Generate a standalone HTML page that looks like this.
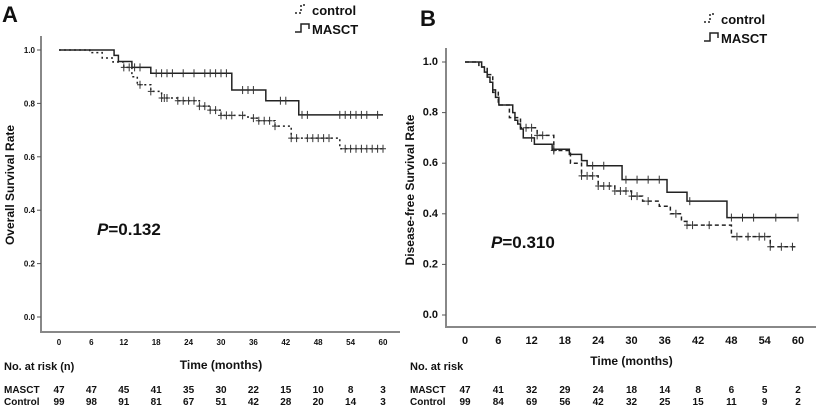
<!DOCTYPE html>
<html><head><meta charset="utf-8"><style>
body{margin:0;background:#fff;width:820px;height:408px;overflow:hidden;font-family:"Liberation Sans",Arial,sans-serif}
svg text{font-family:"Liberation Sans",Arial,sans-serif;font-weight:bold;fill:#111}
</style></head><body>
<svg id="c" width="820" height="408"></svg>
<script>
// ---- Panel A data ----
const aTicksY = [0.0,0.2,0.4,0.6,0.8,1.0];
const aTicksX = [0,6,12,18,24,30,36,42,48,54,60];
const aMasctT = [0,10.2,11,13.5,17,32,38.3,44.4,60];
const aMasctS = [1.0,0.98,0.957,0.935,0.913,0.85,0.81,0.757,0.757];
const aCtrlT = [0,5.7,8,10,12,13.5,14.5,17,19,22,26,28,30,33,35,37,40,43,51,52,60];
const aCtrlS = [1.0,0.99,0.97,0.955,0.935,0.9,0.87,0.845,0.82,0.81,0.79,0.775,0.755,0.755,0.745,0.735,0.715,0.67,0.67,0.63,0.63];
const aMasctCens = [14,15,18,19,20,21,23,25,27,28,29,30,31,34,35,36,41,42,45,46,52,53,54,55,56,57,59];
const aCtrlCens = [12,13,15,17,19,19.5,20,22,23,24,25,26,27,28,29,30,31,32,34,36,37,38,39,40,43,44,46,47,48,49,50,53,54,55,56,57,58,59,60];
const aMasctRisk = [47,47,45,41,35,30,22,15,10,8,3];
const aCtrlRisk = [99,98,91,81,67,51,42,28,20,14,3];
// ---- Panel B data ----
const bTicksY = [0.0,0.2,0.4,0.6,0.8,1.0];
const bTicksX = [0,6,12,18,24,30,36,42,48,54,60];
const bMasctT = [0,3,3.5,4,4.5,5,5.5,6.1,8.6,9,9.5,10,10.5,12.5,15.7,18.8,21,22,28.3,36.4,40,47.2,60];
const bMasctS = [1.0,0.98,0.96,0.94,0.92,0.89,0.86,0.83,0.8,0.77,0.755,0.735,0.70,0.675,0.655,0.635,0.61,0.59,0.535,0.485,0.45,0.385,0.385];
const bCtrlT = [0,2.5,4,5,6,8,10,13,16,19,21,24,27,30,32,35,37,39,40,47,48,54,55,60];
const bCtrlS = [1.0,0.98,0.95,0.88,0.83,0.78,0.74,0.71,0.65,0.60,0.55,0.51,0.49,0.47,0.45,0.43,0.40,0.37,0.355,0.355,0.31,0.31,0.27,0.27];
const bMasctCens = [12,16,23,25,29,31,33,35,40.5,48,50,52,56,60];
const bCtrlCens = [11,12,13,14,16,21,22,23,24,25,26,27,28,29,30,31,33,38,40,41,44,49,51,53,54,55,57,59];
const bMasctRisk = [47,41,32,29,24,18,14,8,6,5,2];
const bCtrlRisk = [99,84,69,56,42,32,25,15,11,9,2];

const svg=document.getElementById('c');
const NS='http://www.w3.org/2000/svg';
function el(tag,attrs,parent){const e=document.createElementNS(NS,tag);for(const k in attrs)e.setAttribute(k,attrs[k]);(parent||svg).appendChild(e);return e;}
function txt(s,attrs,parent){const e=el('text',attrs,parent);e.textContent=s;return e;}
function stepPath(T,S,sx,sy){let d='M'+sx(T[0])+','+sy(S[0]);for(let i=1;i<T.length;i++){d+=' H'+sx(T[i])+' V'+sy(S[i]);}return d;}
function survAt(T,S,t){let v=S[0];for(let i=0;i<T.length;i++){if(T[i]<=t)v=S[i];}return v;}

function panel(cfg){
  const g=el('g',{});
  
  
  const sx=t=>cfg.x0+(t/60)*(cfg.x60-cfg.x0);
  const sy=v=>cfg.y0-v*(cfg.y0-cfg.y1);
  const ax=el('path',{d:`M${cfg.axX},${cfg.top} V${cfg.axY} H${cfg.right}`,stroke:'#888',fill:'none','stroke-width':2},g);
  
  
  cfg.ty.forEach(v=>{
    el('line',{x1:cfg.axX-4,x2:cfg.axX,y1:sy(v),y2:sy(v),stroke:'#555'},g);
    const t=txt(v.toFixed(1),{x:cfg.axX-cfg.tyOff,y:sy(v)+3,'text-anchor':'end','font-size':cfg.tfs},g);
    
    
  });
  cfg.tx.forEach((v,i)=>{
    const t=txt(String(v),{x:sx(v),y:cfg.axY+cfg.txOff,'text-anchor':'middle','font-size':cfg.tfs},g);
    
    
    const r1=txt(String(cfg.mr[i]),{x:sx(v),y:393,'text-anchor':'middle','font-size':10},g);
    
    
    const r2=txt(String(cfg.cr[i]),{x:sx(v),y:405,'text-anchor':'middle','font-size':10},g);
    
    
  });
  const cp=el('path',{d:stepPath(cfg.cT,cfg.cS,sx,sy),stroke:'#222',fill:'none','stroke-width':1.5,'stroke-dasharray':cfg.dash},g);
  
  
  const mp=el('path',{d:stepPath(cfg.mT,cfg.mS,sx,sy),stroke:'#222',fill:'none','stroke-width':1.5},g);
  
  
  cfg.cC.forEach(t=>{const y=sy(survAt(cfg.cT,cfg.cS,t));const m=el('path',{d:`M${sx(t)},${y-4} V${y+4} M${sx(t)-3},${y} h6`,stroke:'#333','stroke-width':1},g);});
  cfg.mC.forEach(t=>{const y=sy(survAt(cfg.mT,cfg.mS,t));const m=el('path',{d:`M${sx(t)},${y-4} V${y+4}`,stroke:'#333','stroke-width':1},g);});
  const yl=txt(cfg.ytitle,{x:0,y:0,'text-anchor':'middle','font-size':12,transform:`translate(${cfg.ytx},${cfg.yty}) rotate(-90)`},g);
  
  
  const xl=txt('Time (months)',{x:sx(30),y:cfg.xty,'text-anchor':'middle','font-size':12},g);
  
  
  const pl=txt('',{x:cfg.px,y:cfg.py,'font-size':17},g);
  
  
  const ps=document.createElementNS(NS,'tspan');ps.setAttribute('font-style','italic');ps.textContent='P';pl.appendChild(ps);
  pl.appendChild(document.createTextNode(cfg.p));
  const lt=txt(cfg.letter,{x:cfg.lx,y:cfg.ly,'font-size':22},g);
  
  
  const nr=txt(cfg.risk,{x:cfg.nrx,y:cfg.nry,'font-size':11},g);
  
  
  txt('MASCT',{x:cfg.nrx,y:393,'font-size':10},g);
  txt('Control',{x:cfg.nrx,y:405,'font-size':10},g);
  const lg=el('g',{},g);
  
  
  el('path',{d:`M${cfg.lgx},${cfg.lgy+2} h6 v-8 h6`,stroke:'#222',fill:'none','stroke-dasharray':'2,2','stroke-width':1.5},lg);
  txt('control',{x:cfg.lgx+17,y:cfg.lgy+4,'font-size':13,'font-weight':'normal'},lg);
  el('path',{d:`M${cfg.lgx},${cfg.lgy+21} h6 v-8 h8 v5`,stroke:'#222',fill:'none','stroke-width':1.5},lg);
  txt('MASCT',{x:cfg.lgx+17,y:cfg.lgy+23,'font-size':13,'font-weight':'normal'},lg);
}

panel({name:'panel-a-overall-survival',x0:59,x60:383,y0:317,y1:50,axX:41,axY:332,top:36,right:400,tfs:8,tyOff:6,txOff:13,
  ty:aTicksY,tx:aTicksX,mT:aMasctT,mS:aMasctS,cT:aCtrlT,cS:aCtrlS,mC:aMasctCens,cC:aCtrlCens,mr:aMasctRisk,cr:aCtrlRisk,
  dash:'2,3',ytitle:'Overall Survival Rate',ytx:14,yty:185,xty:369,px:97,py:235,p:'=0.132',letter:'A',lx:2,ly:22,
  risk:'No. at risk (n)',nrx:4,nry:370,lgx:295,lgy:11});
panel({name:'panel-b-disease-free-survival',x0:465,x60:798,y0:315,y1:62,axX:446,axY:327,top:48,right:816,tfs:11,tyOff:8,txOff:17,
  ty:bTicksY,tx:bTicksX,mT:bMasctT,mS:bMasctS,cT:bCtrlT,cS:bCtrlS,mC:bMasctCens,cC:bCtrlCens,mr:bMasctRisk,cr:bCtrlRisk,
  dash:'4,3',ytitle:'Disease-free Survival Rate',ytx:414,yty:190,xty:365,px:491,py:248,p:'=0.310',letter:'B',lx:420,ly:26,
  risk:'No. at risk',nrx:410,nry:370,lgx:704,lgy:20});
</script>
</body></html>
